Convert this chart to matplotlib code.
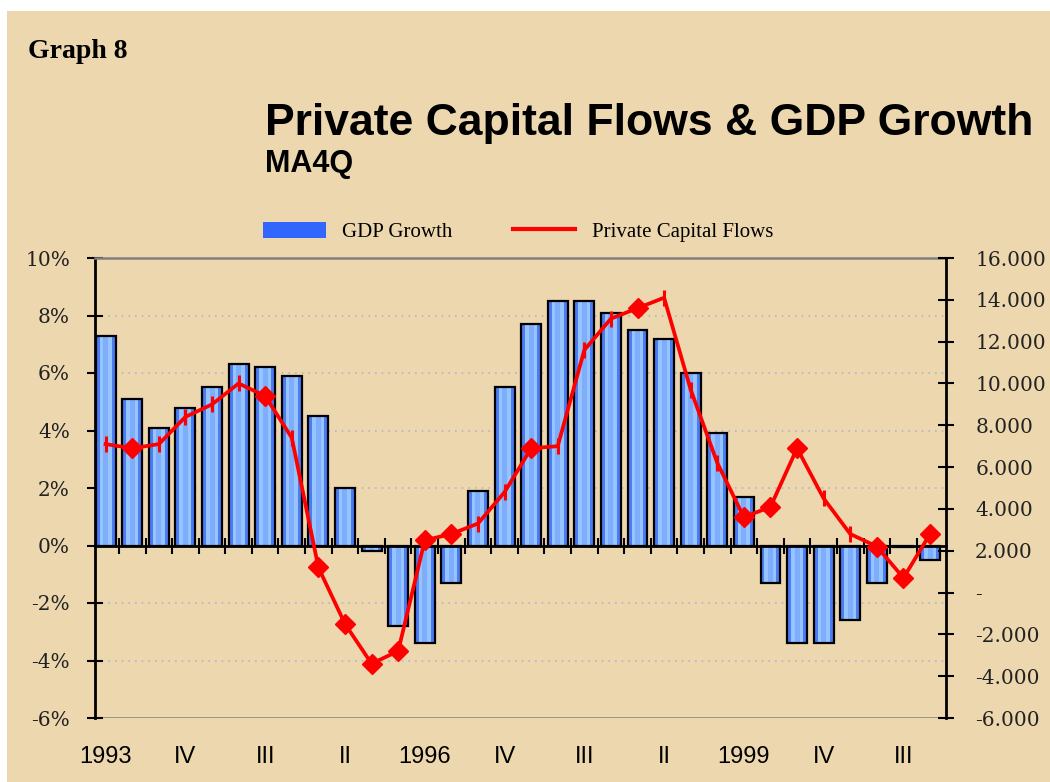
import numpy as np
import matplotlib
matplotlib.use('Agg')
import matplotlib.pyplot as plt
from matplotlib.patches import Patch, Rectangle
from matplotlib.lines import Line2D
from matplotlib.ticker import FuncFormatter
import matplotlib.transforms as mtransforms

# quarterly data 1993Q1 - 2000Q4
gdp_growth = [7.3, 5.1, 4.1, 4.8, 5.5, 6.3, 6.2, 5.9, 4.5, 2.0, -0.2, -2.8,
              -3.4, -1.3, 1.9, 5.5, 7.7, 8.5, 8.5, 8.1, 7.5, 7.2, 6.0, 3.9,
              1.7, -1.3, -3.4, -3.4, -2.6, -1.3, -0.05, -0.5]
capital_flows = [7100, 6900, 7100, 8400, 9000, 10000, 9400, 7400, 1200, -1500,
                 -3400, -2800, 2500, 2800, 3300, 4800, 6900, 7000, 11600, 13100,
                 13600, 14100, 9700, 6200, 3600, 4100, 6900, 4500, 2800, 2200,
                 700, 2800]
# marker style per point as it shows in the original
diamond_points = [1, 6, 8, 9, 10, 11, 12, 13, 16, 20, 24, 25, 26, 29, 30, 31]
x_labels = ['1993', 'IV', 'III', 'II', '1996', 'IV', 'III', 'II', '1999', 'IV', 'III']
label_idx = list(range(0, 32, 3))

bg = '#ECD7AE'
serif = 'Liberation Serif'
sans = 'Liberation Sans'

fig = plt.figure(figsize=(10.5, 7.82), dpi=100, facecolor='white')
fig.patches.append(Rectangle((7 / 1050, 0), 1, 1 - 11 / 782, transform=fig.transFigure,
                             facecolor=bg, edgecolor='none', zorder=-10))

ax = fig.add_axes([95 / 1050, 1 - 718 / 782, 851 / 1050, 460 / 782])
ax.patch.set_alpha(0)
ax2 = ax.twinx()

x = np.arange(len(gdp_growth))
w = 0.75
# bars with a shaded look
ax.bar(x, gdp_growth, width=w, color='#4C7CF3', edgecolor='none', zorder=2)
ax.bar(x, gdp_growth, width=w * 0.6, color='#96C4FF', edgecolor='none', zorder=2)
ax.bar(x, gdp_growth, width=w * 0.25, color='#7EAEFB', edgecolor='none', zorder=2)
ax.bar(x, gdp_growth, width=w, fill=False, edgecolor='black', linewidth=1.6, zorder=3)

ax.set_xlim(-0.4, 31.6)
ax.set_ylim(-6, 10)
ax.set_yticks(range(-6, 11, 2))
ax.yaxis.set_major_formatter(FuncFormatter(lambda v, p: f'{v:.0f}%'))
for v in [8, 6, 4, 2, -2, -4]:
    ax.axhline(v, color='#b4b4c4', linestyle=(0, (1, 3)), linewidth=1.2, zorder=1)
ax.axhline(-6, color='#808080', linewidth=1.8, zorder=1)

ax.spines['bottom'].set_position(('data', 0))
ax.spines['bottom'].set_linewidth(2)
ax.spines['bottom'].set_zorder(4)
ax.spines['left'].set_linewidth(2)
ax.spines['top'].set_color('#808080')
ax.spines['top'].set_linewidth(1.8)
ax.spines['right'].set_visible(False)
ax.set_xticks(np.arange(0.5, 31, 1))
ax.set_xticklabels([])
ax.tick_params(axis='x', direction='inout', length=11, width=1.5)
ax.tick_params(axis='y', direction='inout', length=12, width=1.5, pad=12,
               labelsize=14.5, labelcolor='#222222')
for t in ax.get_yticklabels():
    t.set_fontfamily('DejaVu Serif')

trans = mtransforms.blended_transform_factory(ax.transData, ax.transAxes)
for i, lab in zip(label_idx, x_labels):
    ax.text(i, -0.085, lab, transform=trans, ha='center', va='center',
            fontsize=17, fontfamily=sans)

# capital flows line
ax2.plot(x, capital_flows, color='#FF0000', linewidth=2.7, zorder=5)
mk = np.array([i in diamond_points for i in x])
ax2.plot(x[mk], np.array(capital_flows)[mk], linestyle='none', marker='D',
         markersize=10.5, color='#FF0000', zorder=6)
ax2.plot(x[~mk], np.array(capital_flows)[~mk], linestyle='none', marker='|',
         markersize=12, markeredgewidth=2.2, color='#FF0000', zorder=6)
ax2.set_ylim(-6000, 16000)
ax2.set_yticks(range(-6000, 16001, 2000))
ax2.yaxis.set_major_formatter(FuncFormatter(
    lambda v, p: '-' if v == 0 else f'{v:,.0f}'.replace(',', '.')))
for s in ['top', 'bottom', 'left']:
    ax2.spines[s].set_visible(False)
ax2.spines['right'].set_linewidth(2)
ax2.tick_params(axis='y', direction='inout', length=12, width=1.5, pad=15,
                labelsize=14.5, labelcolor='#222222')
for t in ax2.get_yticklabels():
    t.set_fontfamily('DejaVu Serif')
    t.set_horizontalalignment('left')

# titles
fig.text(28 / 1050, 1 - 58 / 782, 'Graph 8', fontsize=20, fontweight='bold',
         fontfamily=serif, ha='left', va='baseline')
fig.text(265 / 1050, 1 - 135 / 782, 'Private Capital Flows & GDP Growth', fontsize=32,
         fontweight='bold', fontfamily=sans, ha='left', va='baseline')
fig.text(265 / 1050, 1 - 172 / 782, 'MA4Q', fontsize=22, fontweight='bold',
         fontfamily=sans, ha='left', va='baseline')

handles = [Patch(facecolor='#3366FF', edgecolor='none'),
           Line2D([], [], color='#FF0000', linewidth=3)]
fig.legend(handles, ['GDP Growth', 'Private Capital Flows'], loc='center left',
           bbox_to_anchor=(263 / 1050, 1 - 232 / 782), ncol=2, frameon=False,
           prop={'family': serif, 'size': 15}, handlelength=3.0, handleheight=0.8,
           handletextpad=0.8, columnspacing=2.9, borderpad=0, borderaxespad=0)

fig.savefig('out.png', dpi=100, facecolor='white')
